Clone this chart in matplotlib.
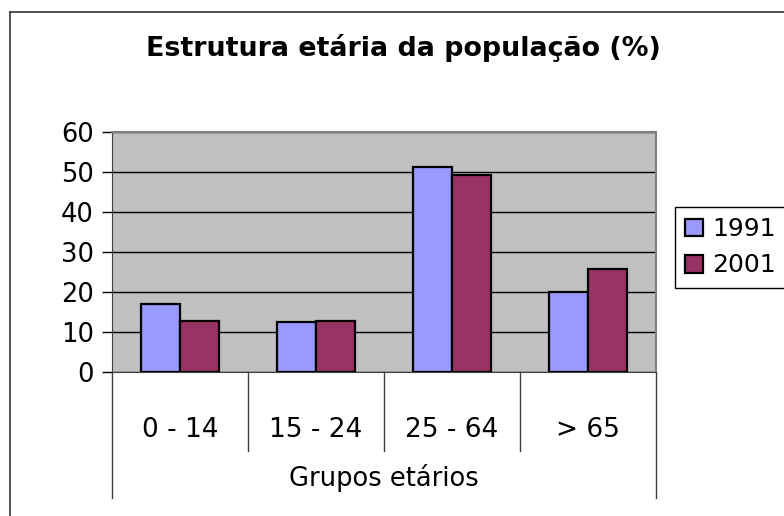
import numpy as np
import matplotlib.pyplot as plt
from matplotlib.lines import Line2D

# data
categories = ["0 - 14", "15 - 24", "25 - 64", "> 65"]
values_1991 = [17.0, 12.5, 51.2, 20.0]
values_2001 = [12.7, 12.8, 49.3, 25.8]
series_labels = ["1991", "2001"]

W, H = 784, 516
fig = plt.figure(figsize=(W / 100, H / 100), dpi=100)
plt.rcParams['font.family'] = ['DejaVu Sans']

# plot area (pixel box: 112..656 x, 132..372 y)
ax = fig.add_axes([112 / W, 1 - 372 / H, 544 / W, 240 / H])
ax.set_facecolor("#C0C0C0")

x = np.arange(len(categories))
bw = 0.285
ax.bar(x - bw / 2, values_1991, bw, color="#9999FF", edgecolor="black", linewidth=1.6, label=series_labels[0], zorder=3)
ax.bar(x + bw / 2, values_2001, bw, color="#993366", edgecolor="black", linewidth=1.6, label=series_labels[1], zorder=3)

ax.set_xlim(-0.5, len(categories) - 0.5)
ax.set_ylim(0, 60)
ax.set_yticks(range(0, 61, 10))
ax.tick_params(axis="y", direction="out", length=7, width=1, labelsize=18.5, pad=6)
ax.set_xticks([])
ax.yaxis.grid(True, color="black", linewidth=1, zorder=1)
ax.set_axisbelow(True)

for side in ["top", "right"]:
    ax.spines[side].set_color("#808080")
    ax.spines[side].set_linewidth(1.5)
ax.spines["left"].set_color("#404040")
ax.spines["bottom"].set_color("#404040")

# category labels and separators below the axis
for i, c in enumerate(categories):
    ax.text(i, -0.24, c, transform=ax.get_xaxis_transform(), ha="center", va="center", fontsize=19)
for xs in [0.5, 1.5, 2.5]:
    ax.plot([xs, xs], [0, -0.329], transform=ax.get_xaxis_transform(), color="#404040", linewidth=1, clip_on=False)
for xs in [-0.5, len(categories) - 0.5]:
    ax.plot([xs, xs], [0, -0.525], transform=ax.get_xaxis_transform(), color="#404040", linewidth=1, clip_on=False)
ax.text(1.5, -0.44, "Grupos etários", transform=ax.get_xaxis_transform(), ha="center", va="center", fontsize=18.5)

# title
fig.text(403 / W, 1 - 48 / H, "Estrutura etária da população (%)", ha="center", va="center",
         fontsize=19.4, fontweight="bold")

# legend
leg = ax.legend(loc="upper left", bbox_to_anchor=(675 / W, 1 - 207 / H), bbox_transform=fig.transFigure,
                fontsize=18, frameon=True, fancybox=False, edgecolor="black", framealpha=1,
                borderaxespad=0, handlelength=0.7, handleheight=0.7, handletextpad=0.4,
                borderpad=0.4, labelspacing=0.5)
leg.get_frame().set_linewidth(1)

# outer chart frame (only left and top visible)
fig.add_artist(Line2D([10 / W, 10 / W], [0, 1 - 12 / H], color="#333333", linewidth=1.2))
fig.add_artist(Line2D([10 / W, 1], [1 - 12 / H, 1 - 12 / H], color="#333333", linewidth=1.2))

fig.savefig("out.png", dpi=100)
